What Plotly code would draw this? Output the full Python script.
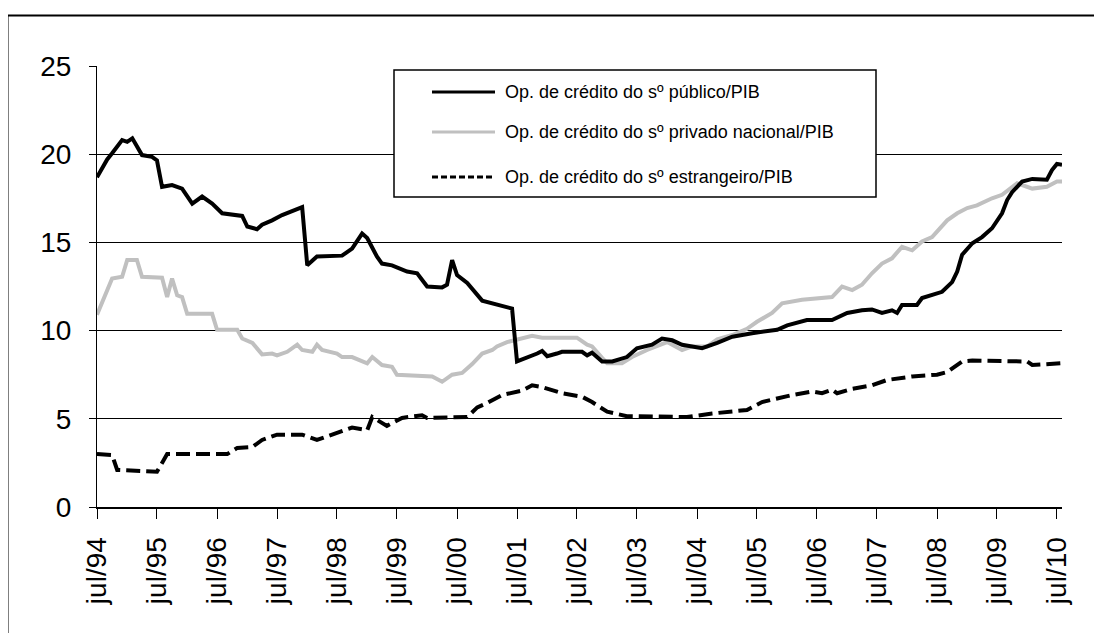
import plotly.graph_objects as go

# ---------------- data ----------------
pub_dates = ["1994-07", "1994-09", "1994-10", "1994-12", "1995-01", "1995-02", "1995-04", "1995-06",
             "1995-07", "1995-08", "1995-10", "1995-12", "1996-02", "1996-04", "1996-06", "1996-08",
             "1996-12", "1997-01", "1997-03", "1997-04", "1997-06", "1997-08", "1997-12", "1998-01",
             "1998-03", "1998-08", "1998-10", "1998-12", "1999-01", "1999-03", "1999-04", "1999-06",
             "1999-09", "1999-11", "2000-01", "2000-04", "2000-05", "2000-06", "2000-07", "2000-09",
             "2000-12", "2001-02", "2001-04", "2001-06", "2001-07", "2001-08", "2001-11", "2001-12",
             "2002-01", "2002-03", "2002-04", "2002-08", "2002-09", "2002-10", "2002-12", "2003-02",
             "2003-05", "2003-07", "2003-10", "2003-12", "2004-02", "2004-04", "2004-06", "2004-08",
             "2004-11", "2005-02", "2005-06", "2005-11", "2006-01", "2006-05", "2006-10", "2007-01",
             "2007-04", "2007-06", "2007-08", "2007-10", "2007-11", "2007-12", "2008-03", "2008-04",
             "2008-08", "2008-10", "2008-11", "2008-12", "2009-02", "2009-04", "2009-06", "2009-08",
             "2009-09", "2009-10", "2009-12", "2010-02", "2010-05", "2010-06", "2010-07", "2010-08"]
pub_vals = [18.7, 19.7, 20.05, 20.8, 20.7, 20.9, 19.95, 19.85,
            19.65, 18.15, 18.25, 18.05, 17.2, 17.6, 17.2, 16.65,
            16.5, 15.9, 15.75, 16.0, 16.25, 16.55, 17.0, 13.7,
            14.2, 14.25, 14.65, 15.5, 15.25, 14.2, 13.8, 13.7,
            13.35, 13.25, 12.5, 12.45, 12.6, 14.0, 13.15, 12.7,
            11.7, 11.55, 11.35, 11.25, 8.25, 8.35, 8.7, 8.85,
            8.55, 8.7, 8.8, 8.8, 8.6, 8.75, 8.25, 8.25,
            8.5, 9.0, 9.2, 9.55, 9.45, 9.2, 9.1, 9.0,
            9.3, 9.65, 9.85, 10.05, 10.3, 10.6, 10.6, 11.0,
            11.15, 11.2, 11.0, 11.15, 11.0, 11.45, 11.45, 11.85,
            12.2, 12.75, 13.35, 14.3, 14.95, 15.3, 15.8, 16.65,
            17.4, 17.85, 18.45, 18.6, 18.55, 19.1, 19.45, 19.4]

priv_dates = ["1994-07", "1994-10", "1994-12", "1995-01", "1995-03", "1995-04", "1995-08", "1995-09",
              "1995-10", "1995-11", "1995-12", "1996-01", "1996-06", "1996-07", "1996-11", "1996-12",
              "1997-02", "1997-04", "1997-06", "1997-07", "1997-09", "1997-11", "1997-12", "1998-02",
              "1998-03", "1998-04", "1998-07", "1998-08", "1998-10", "1999-01", "1999-02", "1999-04",
              "1999-06", "1999-07", "2000-02", "2000-04", "2000-06", "2000-08", "2000-10", "2000-12",
              "2001-02", "2001-03", "2001-05", "2001-08", "2001-10", "2001-12", "2002-07", "2002-09",
              "2002-10", "2002-12", "2003-01", "2003-04", "2003-06", "2003-09", "2003-12", "2004-01",
              "2004-04", "2004-06", "2004-09", "2004-11", "2005-02", "2005-04", "2005-05", "2005-07",
              "2005-10", "2005-12", "2006-04", "2006-10", "2006-12", "2007-02", "2007-04", "2007-06",
              "2007-08", "2007-10", "2007-12", "2008-02", "2008-04", "2008-06", "2008-09", "2008-11",
              "2009-01", "2009-03", "2009-06", "2009-08", "2009-11", "2010-02", "2010-05", "2010-07",
              "2010-08"]
priv_vals = [10.9, 12.95, 13.05, 14.0, 14.0, 13.05, 13.0, 11.9,
             12.95, 12.0, 11.9, 10.95, 10.95, 10.05, 10.05, 9.55,
             9.3, 8.65, 8.7, 8.6, 8.8, 9.2, 8.9, 8.8,
             9.2, 8.9, 8.7, 8.5, 8.5, 8.15, 8.5, 8.05,
             7.95, 7.5, 7.4, 7.1, 7.5, 7.6, 8.1, 8.7,
             8.9, 9.1, 9.35, 9.55, 9.7, 9.6, 9.6, 9.2,
             9.1, 8.45, 8.15, 8.15, 8.5, 8.9, 9.2, 9.35,
             8.9, 9.1, 9.1, 9.5, 9.75, 9.95, 10.1, 10.5,
             11.0, 11.55, 11.75, 11.9, 12.5, 12.3, 12.6, 13.25,
             13.8, 14.1, 14.75, 14.55, 15.05, 15.3, 16.25, 16.65,
             16.95, 17.1, 17.5, 17.7, 18.35, 18.05, 18.15, 18.45,
             18.45]

est_dates = ["1994-07", "1994-10", "1994-11", "1995-07", "1995-08", "1995-09", "1996-09", "1996-11",
             "1997-02", "1997-04", "1997-07", "1997-12", "1998-03", "1998-06", "1998-10", "1999-01",
             "1999-02", "1999-05", "1999-06", "1999-08", "1999-12", "2000-01", "2000-09", "2000-11",
             "2001-01", "2001-04", "2001-08", "2001-10", "2001-12", "2002-04", "2002-08", "2002-10",
             "2003-01", "2003-05", "2004-05", "2004-10", "2005-05", "2005-08", "2005-11", "2006-02",
             "2006-06", "2006-08", "2006-10", "2006-11", "2007-02", "2007-06", "2007-09", "2008-02",
             "2008-07", "2008-09", "2008-12", "2009-02", "2010-01", "2010-02", "2010-08"]
est_vals = [3.0, 2.95, 2.1, 2.0, 2.5, 3.0, 3.0, 3.35,
            3.4, 3.8, 4.1, 4.1, 3.8, 4.1, 4.5, 4.35,
            5.1, 4.6, 4.75, 5.05, 5.2, 5.05, 5.1, 5.65,
            5.9, 6.35, 6.6, 6.9, 6.8, 6.45, 6.25, 5.95,
            5.4, 5.15, 5.1, 5.3, 5.5, 5.95, 6.15, 6.35,
            6.55, 6.45, 6.65, 6.45, 6.7, 6.9, 7.2, 7.4,
            7.5, 7.65, 8.25, 8.3, 8.25, 8.05, 8.15]

tick_dates = ["%d-07-01" % y for y in range(1994, 2011)]
tick_labels = ["jul/%02d" % (y % 100) for y in range(1994, 2011)]
y_ticks = [0, 5, 10, 15, 20, 25]

names = ["Op. de crédito do sº público/PIB",
         "Op. de crédito do sº privado nacional/PIB",
         "Op. de crédito do sº estrangeiro/PIB"]

# ---------------- figure ----------------
FONT = "Liberation Sans, Arial, sans-serif"
OFF = 8  # page body margin of the browser
W, H = 1102 - OFF, 633 - OFF
ML, MR, MT, MB = 97 - OFF, 40, 66 - OFF, 126
PW, PH = W - ML - MR, H - MT - MB

fig = go.Figure()
fig.add_trace(go.Scatter(x=priv_dates, y=priv_vals, mode="lines", name=names[1],
                         line=dict(color="#c0c0c0", width=4), showlegend=False))
fig.add_trace(go.Scatter(x=pub_dates, y=pub_vals, mode="lines", name=names[0],
                         line=dict(color="#000000", width=4), showlegend=False))
fig.add_trace(go.Scatter(x=est_dates, y=est_vals, mode="lines", name=names[2],
                         line=dict(color="#000000", width=4, dash="14px,6px"), showlegend=False))


def px_x(p):
    # screen pixel -> paper fraction
    return (p - OFF - ML) / PW


def px_y(p):
    return (H - MB - (p - OFF)) / PH


shapes = []
# outer frame (top and left edges visible)
shapes.append(dict(type="rect", xref="paper", yref="paper",
                   x0=px_x(7.5), x1=px_x(1130), y0=px_y(15.5), y1=px_y(680),
                   line=dict(color="black", width=2), fillcolor="rgba(0,0,0,0)", layer="below"))
# legend box
shapes.append(dict(type="rect", xref="paper", yref="paper",
                   x0=px_x(394), x1=px_x(876), y0=px_y(70), y1=px_y(197),
                   line=dict(color="black", width=1.5), fillcolor="white", layer="above"))
legend_rows = [92, 132, 177]
legend_styles = [dict(color="black", width=3), dict(color="#c0c0c0", width=3),
                 dict(color="black", width=3, dash="6px,3px")]
annotations = []
for nm, yy, st in zip(names, legend_rows, legend_styles):
    shapes.append(dict(type="line", xref="paper", yref="paper",
                       x0=px_x(432), x1=px_x(495), y0=px_y(yy), y1=px_y(yy),
                       line=st, layer="above"))
    annotations.append(dict(xref="paper", yref="paper", x=px_x(503), y=px_y(yy),
                            text=nm, showarrow=False, xanchor="left", yanchor="middle",
                            font=dict(family=FONT, size=18, color="black")))

fig.update_layout(
    width=W, height=H,
    margin=dict(l=ML, r=MR, t=MT, b=MB, pad=0),
    paper_bgcolor="white", plot_bgcolor="white",
    font=dict(family=FONT, color="black"),
    shapes=shapes, annotations=annotations,
    showlegend=False,
)
fig.update_xaxes(
    type="date", range=["1994-07-01", "2010-08-01"],
    tickmode="array", tickvals=tick_dates, ticktext=tick_labels,
    tickangle=-90, tickfont=dict(family=FONT, size=28, color="black"),
    ticks="outside", ticklen=10, tickwidth=1, tickcolor="black",
    showline=True, linecolor="black", linewidth=2,
    showgrid=False, zeroline=False, ticklabelstandoff=7,
)
fig.update_yaxes(
    range=[0, 25], tickmode="array", tickvals=y_ticks,
    tickfont=dict(family=FONT, size=28, color="black"),
    ticks="outside", ticklen=7, tickwidth=1, tickcolor="black",
    showline=True, linecolor="black", linewidth=1,
    showgrid=True, gridcolor="black", gridwidth=1, zeroline=False,
    ticklabelstandoff=12,
)

fig.write_html("out.html")
